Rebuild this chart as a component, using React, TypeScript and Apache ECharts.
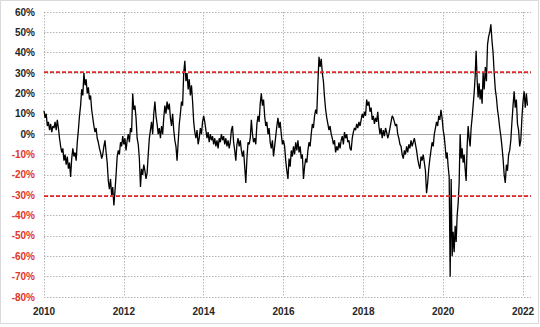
import React, { useEffect, useRef } from 'react';
import * as echarts from 'echarts';

// Values (percent), evenly spread over each year
const y2010 = [11.5, 8, 10, 4, 6, 2, 5, 1, 4, 3, 6, 2, 7, 3, -2, -6, -9, -7, -13, -10, -15, -11, -17, -14, -21, -12, -7, -11, -9, -13, -4, 2, 9, 14, 22, 19];
const y2011 = [30, 24, 27, 20, 23, 17, 19, 12, 8, 4, 1, 3, -2, -4, -7, -9, -12, -10, -6, -3, -9, -14, -23, -27, -22, -30, -26, -35, -28, -20, -11, -8, -10, -4, -6, -1];
const y2012 = [-5, -2, -8, -3, 0, -4, 3, 1, 20, 12, 14, 8, -2, -5, -12, -26, -17, -20, -15, -18, -22, -19, -10, -2, 2, 6, 0, 10, 16, 9, 5, 0, 3, -2, 4, 0];
const y2013 = [8, 14, 10, 16, 12, 15, 8, 4, 10, 2, -3, -6, -13, -4, 5, 10, 16, 14, 30, 36, 26, 30, 22, 27, 19, 24, 16, 6, 1, -2, 2, -5, -2, 3, 0, 6];
const y2014 = [9, 6, 2, -2, 1, -4, 0, -3, -1, -5, -2, -6, -3, -7, -2, -4, 0, -3, -1, -5, -2, -6, -3, -7, -4, 2, 4, -4, -8, -13, -5, -2, -6, -3, -8, -11];
const y2015 = [-8, -16, -24, -12, -4, -5, -2, 7, 0, -4, -2, -5, 5, 9, 6, 15, 20, 14, 17, 9, 4, 6, 0, 3, -4, -7, -3, -11, -6, -1, 4, 8, 3, 6, 0, -5];
const y2016 = [-3, -6, -13, -18, -22, -12, -16, -8, -11, -6, -10, -4, -8, -3, -9, -6, -12, -10, -22, -16, -12, -14, -8, -4, -6, 0, 5, 3, 9, 12, 10, 25, 38, 33, 37, 30];
const y2017 = [26, 18, 12, 8, 5, 2, 4, 0, -2, -5, -3, -9, -6, -8, -4, -7, -3, -1, -5, 1, -2, 0, -4, -3, -7, -8, -2, 1, 3, 2, 5, 3, 6, 4, 7, 10];
const y2018 = [8, 11, 9, 17, 14, 16, 11, 13, 7, 9, 5, 8, 6, 11, 4, 0, 3, -2, 2, -1, 3, 1, -2, 0, 3, 6, 9, 8, 6, 4, 5, 0, -2, -5, -6, -10];
const y2019 = [-12, -8, -10, -6, -9, -5, -7, -3, -6, -4, -2, -5, -8, -12, -15, -17, -11, -13, -10, -14, -18, -29, -24, -17, -12, -8, -4, -6, 0, 3, 6, 4, 9, 7, 12, 8];
const y2020 = [2, -1, -6, -12, -9, -16, -21, -70, -22, -60, -48, -58, -45, -53, -40, -34, -24, 0, -12, -7, -14, -10, -17, -23, -6, 4, -2, -6, 3, 8, 14, 20, 28, 41, 27, 18, 25, 17, 22, 15];
const y2021 = [30, 22, 33, 26, 44, 48, 50, 54, 46, 40, 30, 22, 18, 12, 8, 3, -1, -6, -12, -20, -24, -15, -18, -10, -8, -3, 6, 14, 21, 13, 17, 5, 2, -6, -3, 8];
const y2022 = [16, 21, 13, 20, 14];

const years = [2010, 2011, 2012, 2013, 2014, 2015, 2016, 2017, 2018, 2019, 2020, 2021, 2022];
const yearValues = [y2010, y2011, y2012, y2013, y2014, y2015, y2016, y2017, y2018, y2019, y2020, y2021, y2022];
const pointsPerFullYear = 36;

const upperBand = 30.8;
const lowerBand = -30.4;

const yMin = -80;
const yMax = 60;
const yStep = 10;
const xMin = 2010;
const xMax = 2022.2;
const xStep = 2;

const FONT = '"Liberation Sans", Arial, sans-serif';

function buildData(): [number, number][] {
  const out: [number, number][] = [];
  years.forEach((yr, k) => {
    const vals = yearValues[k];
    const n = vals.length < 20 ? pointsPerFullYear : vals.length;
    vals.forEach((v, i) => out.push([yr + i / n, v]));
  });
  return out;
}

export default function App() {
  const ref = useRef<HTMLDivElement>(null);
  useEffect(() => {
    if (!ref.current) return;
    const chart = echarts.init(ref.current, undefined, { renderer: 'svg' });
    const gridLine = { color: '#b4b4b4', width: 1, type: [1.5, 1.5] as number[] };
    chart.setOption({
      animation: false,
      backgroundColor: '#fff',
      graphic: [
        {
          type: 'rect',
          silent: true,
          shape: { x: 0.5, y: 0.5, width: 538, height: 323 },
          style: { fill: 'none', stroke: '#d9d9d9', lineWidth: 1 },
        },
      ],
      grid: { left: 44, right: 9, top: 12, bottom: 30, containLabel: false },
      xAxis: {
        type: 'value',
        min: xMin,
        max: xMax,
        interval: xStep,
        axisLine: { show: false },
        axisTick: { show: false },
        axisLabel: {
          formatter: (v: number) => (Number.isInteger(v) ? String(v) : ''),
          showMaxLabel: false,
          color: '#262626',
          fontWeight: 'bold',
          fontSize: 10,
          fontFamily: FONT,
          margin: 9,
        },
        splitLine: { show: true, showMaxLine: false, lineStyle: gridLine },
      },
      yAxis: {
        type: 'value',
        min: yMin,
        max: yMax,
        interval: yStep,
        axisLine: { show: false },
        axisTick: { show: false },
        axisLabel: {
          formatter: (v: number) => `${v}%`,
          color: (v: any) => (Number(v) < 0 ? '#e0352b' : '#262626'),
          fontWeight: 'bold',
          fontSize: 10,
          fontFamily: FONT,
          margin: 9,
        },
        splitLine: { show: true, lineStyle: gridLine },
      },
      series: [
        {
          type: 'line',
          data: [],
          silent: true,
          markLine: {
            z: 1,
            silent: true,
            symbol: 'none',
            label: { show: false },
            lineStyle: { color: '#a6a6a6', width: 1, type: 'solid' },
            data: [{ yAxis: 0 }],
          },
        },
        {
          type: 'line',
          data: buildData(),
          showSymbol: false,
          symbol: 'none',
          silent: true,
          lineStyle: { color: '#000', width: 1.3 },
          markLine: {
            silent: true,
            symbol: 'none',
            label: { show: false },
            lineStyle: { color: '#e02a2a', width: 1.75, type: [4, 2] },
            data: [{ yAxis: upperBand }, { yAxis: lowerBand }],
          },
        },
      ],
    });
    return () => chart.dispose();
  }, []);
  return <div ref={ref} style={{ position: 'absolute', left: 0, top: 0, width: 540, height: 327 }} />;
}
